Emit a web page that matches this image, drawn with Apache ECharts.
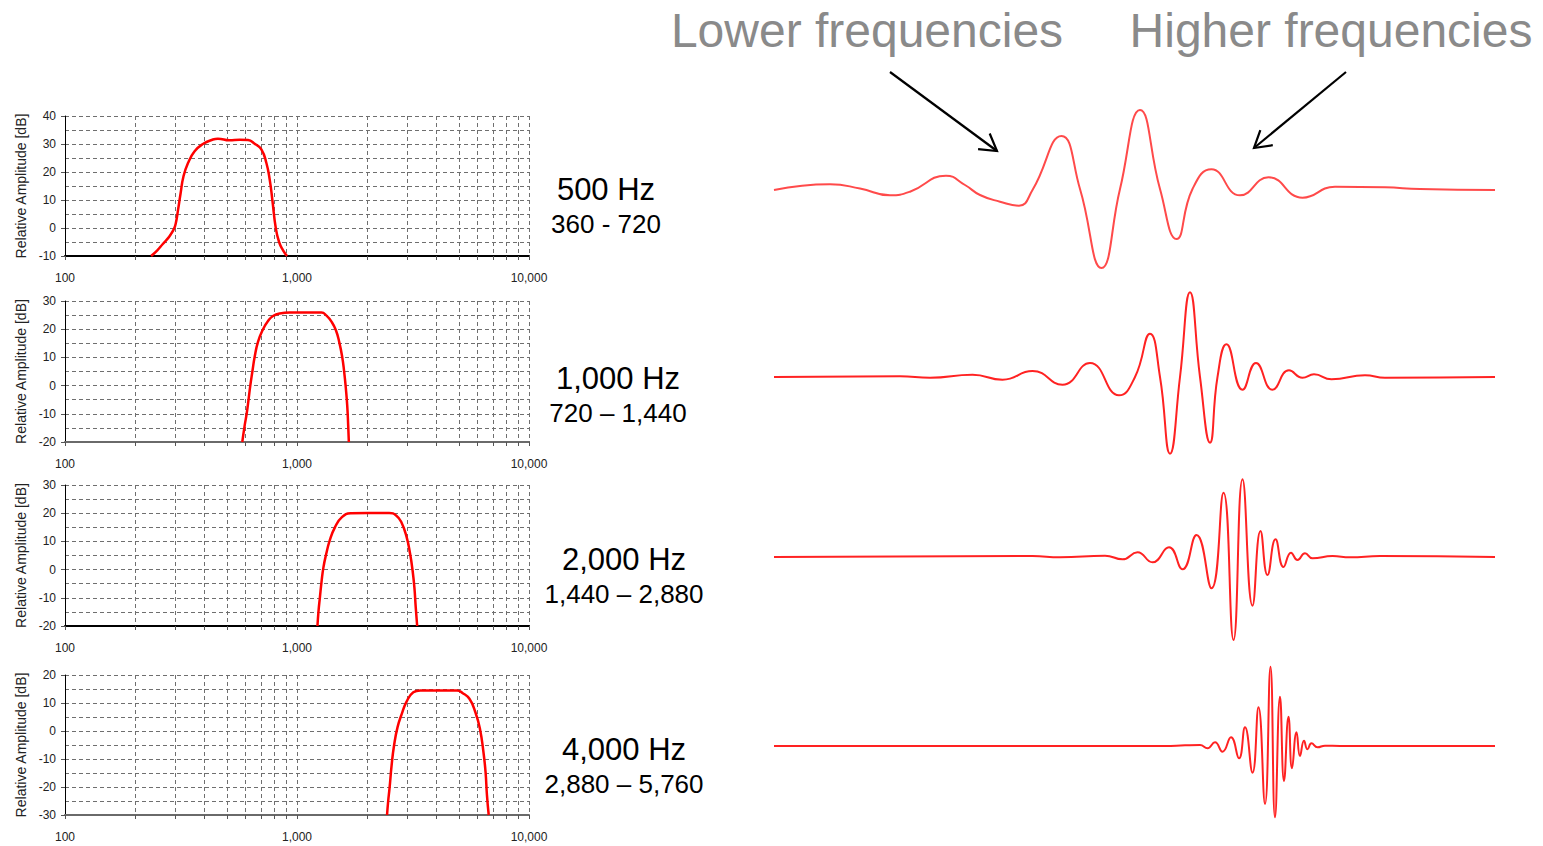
<!DOCTYPE html>
<html>
<head>
<meta charset="utf-8">
<script src="https://cdn.jsdelivr.net/npm/echarts@6/dist/echarts.min.js"></script>
<style>
  html, body { margin: 0; padding: 0; background: #ffffff; }
  #chart { width: 1543px; height: 846px; }
</style>
</head>
<body>
<div id="chart"></div>
<script>
// ---- Octave-band filter responses: frequency [Hz] and relative amplitude [dB] ----
const freq500 = [235, 250, 264, 277, 287, 295, 300, 307, 315, 324, 339, 362, 393, 434, 456, 512, 566, 615, 657, 702, 738, 763, 783, 810, 837, 871, 906];
const db500   = [-10, -8, -5.7, -3.8, -2, -0.3, 1.5, 6.4, 12.4, 18.4, 23.2, 27.4, 30, 31.6, 31.9, 31.3, 31.5, 31.4, 30.1, 28.1, 23.2, 17.2, 10, 0, -5, -8, -10];

const freq1000 = [581, 595, 607, 619, 629, 642, 657, 679, 714, 750, 788, 842, 930, 1100, 1275, 1340, 1408, 1470, 1520, 1566, 1597, 1624, 1646, 1662, 1673];
const db1000   = [-20, -14.1, -9.9, -4.6, 0, 4.9, 10.2, 15.5, 20, 22.9, 24.7, 25.6, 25.9, 25.9, 25.9, 24.8, 22.7, 19.7, 15.5, 10.2, 4.9, -1, -7, -14.1, -20];

const freq2000 = [1225, 1238, 1255, 1277, 1300, 1336, 1383, 1457, 1562, 1704, 2026, 2496, 2675, 2818, 2969, 3074, 3150, 3206, 3250, 3296];
const db2000   = [-20, -14.7, -9.9, -4, 0.8, 5.5, 10.3, 15, 18.6, 20, 20.1, 20.1, 19.2, 16.8, 11.5, 5.5, -0.4, -6.3, -13.5, -20];

const freq4000 = [2444, 2470, 2505, 2558, 2621, 2713, 2829, 2960, 3172, 3401, 4049, 4901, 5164, 5536, 5874, 6144, 6362, 6497, 6588, 6705];
const db4000   = [-30, -25.3, -20.5, -12.2, -5.1, 1.4, 6.1, 10.3, 13.8, 14.5, 14.5, 14.5, 13.6, 11.5, 6.7, 0.8, -7.5, -14.6, -22.9, -30];

// ---- Impulse responses of each band: time sample and amplitude ----
const time500 = [0, 56, 86, 116, 136, 172, 191, 206, 226, 245, 258.5, 287.5, 306, 327.5, 346, 366, 386, 402.5, 418.5, 437.5, 466, 494.5, 528.5, 561, 611, 646, 721];
const amp500  = [-1, 4.7, 0.5, -6.3, -2.7, 13.3, 4, -6, -12.7, -16.7, -1, 53, 0, -79, 0, 79, 0, -50, 0, 19.7, -6.3, 11.7, -8.7, 2.3, 1.7, 0, -1];

const time1000 = [0, 126, 156, 198.5, 228.5, 258.5, 288.5, 316, 345, 361, 376, 386, 396, 406, 416, 426, 436, 443.5, 452.5, 468.5, 482, 498.5, 515, 528.5, 540, 557.5, 591, 611, 721];
const amp1000  = [0, 0.7, -0.7, 2.3, -2.7, 6, -7.7, 14, -18.3, 0, 43.3, 0, -76.7, 0, 84.7, 0, -65.7, 0, 32.7, -12.7, 14, -12.7, 6.7, -0.7, 2.7, -2.3, 1.7, -0.7, 0];

const time2000 = [0, 258.5, 286, 331, 348.5, 363.5, 378.5, 395, 408.5, 422.5, 437.5, 449.5, 459.5, 468.5, 478.5, 486.5, 493.5, 501.5, 509.5, 517, 523.5, 531, 538.5, 558.5, 576, 606, 721];
const amp2000  = [0, 1, -0.3, 1.3, -2.3, 4.7, -5.3, 9.7, -12.3, 22, -31.3, 64.3, -83, 77.7, -48.7, 26, -18, 17.7, -10, 4.3, -3, 3.7, -1.3, 1, -0.3, 1, 0];

const time4000 = [0, 391, 411, 426, 433.5, 441, 448.5, 457, 465, 471, 478.5, 484.5, 491, 496.5, 501, 506, 510, 514.5, 518, 522.5, 526, 530, 533.5, 537.5, 543.5, 551, 566, 721];
const amp4000  = [0, 0, 0.7, 1, -2.3, 3.7, -5.7, 8.7, -12.3, 18.7, -26.7, 38.7, -58, 79.3, -71.3, 49.3, -35, 29.3, -22.3, 13.7, -10, 5.3, -3.3, 2.7, -1.3, 0.3, 0, 0];

// ---- Axis ticks and labels ----
const freqTickLabels = [100, 1000, 10000];
const freqGridLines = [100, 200, 300, 400, 500, 600, 700, 800, 900, 1000, 2000, 3000, 4000, 5000, 6000, 7000, 8000, 9000, 10000];
const dbMins = [-10, -20, -20, -30];
const dbMaxs = [40, 30, 30, 20];
const centerLabels = ['500 Hz', '1,000 Hz', '2,000 Hz', '4,000 Hz'];
const bandLabels = ['360 - 720', '720 \u2013 1,440', '1,440 \u2013 2,880', '2,880 \u2013 5,760'];
const headings = ['Lower frequencies', 'Higher frequencies'];

// ---- Layout ----
const FONT = 'Arial, "Liberation Sans", sans-serif';
const responseGrids = [
  { top: 116, height: 140 },
  { top: 301, height: 141 },
  { top: 485, height: 141 },
  { top: 675, height: 140 }
];
const waveGridTops = [99, 287, 467, 656];
const baseLineColors = ['#000000', '#6a6a6a', '#000000', '#6a6a6a'];
const labelPos = [[606, 189, 224], [618, 378, 413], [624, 559, 594], [624, 749, 784]];

const responses = [[freq500, db500], [freq1000, db1000], [freq2000, db2000], [freq4000, db4000]];
const waves = [[time500, amp500], [time1000, amp1000], [time2000, amp2000], [time4000, amp4000]];
const zip = (a, b) => a.map((v, i) => [v, b[i]]);

const grid = [], xAxis = [], yAxis = [], series = [];
const gridDash = { type: [4, 3], color: '#6f6f6f', width: 1 };

responses.forEach((r, i) => {
  grid.push({ left: 65, width: 464, top: responseGrids[i].top, height: responseGrids[i].height });
  xAxis.push({
    type: 'log', logBase: 10, min: 100, max: 10000, gridIndex: i,
    axisLine: { show: true, onZero: false, lineStyle: { color: baseLineColors[i], width: 2 } },
    axisTick: { show: true, length: 4, customValues: freqGridLines, lineStyle: { color: '#555' } },
    axisLabel: {
      customValues: freqTickLabels, margin: 16, fontSize: 12, color: '#222', fontFamily: FONT,
      formatter: v => Math.round(v).toLocaleString('en-US')
    },
    splitLine: { show: true, lineStyle: gridDash }
  });
  yAxis.push({
    type: 'value', gridIndex: i, min: dbMins[i], max: dbMaxs[i], interval: 10,
    name: 'Relative Amplitude [dB]', nameLocation: 'middle', nameGap: 37,
    nameTextStyle: { fontSize: 14, color: '#222', fontFamily: FONT },
    axisLine: { show: true, onZero: false, lineStyle: { color: '#000', width: 1 } },
    axisTick: { show: true, length: 4, lineStyle: { color: '#555' } },
    axisLabel: { fontSize: 12, color: '#222', margin: 9, fontFamily: FONT },
    splitLine: { show: true, lineStyle: gridDash },
    minorTick: { show: false, splitNumber: 2 },
    minorSplitLine: { show: true, lineStyle: gridDash }
  });
  series.push({
    type: 'line', xAxisIndex: i, yAxisIndex: i, data: zip(r[0], r[1]),
    smooth: 0.5, showSymbol: false, clip: false,
    lineStyle: { color: '#ff0000', width: 2.5 }
  });
});

waves.forEach((w, i) => {
  const k = 4 + i;
  grid.push({ left: 774, width: 721, top: waveGridTops[i], height: 180 });
  xAxis.push({ type: 'value', gridIndex: k, min: 0, max: 721, show: false });
  yAxis.push({ type: 'value', gridIndex: k, min: -90, max: 90, show: false });
  series.push({
    type: 'line', xAxisIndex: k, yAxisIndex: k, data: zip(w[0], w[1]),
    smooth: 0.5, showSymbol: false, clip: false,
    lineStyle: { color: i === 0 ? '#ff4a4a' : '#ff2222', width: 2 }
  });
});

// Arrow annotations pointing at the waveform
function arrow(x1, y1, x2, y2) {
  const ang = Math.atan2(y2 - y1, x2 - x1);
  const L = 19, spread = 0.54;
  const p1 = [x2 - L * Math.cos(ang - spread), y2 - L * Math.sin(ang - spread)];
  const p2 = [x2 - L * Math.cos(ang + spread), y2 - L * Math.sin(ang + spread)];
  return [
    { type: 'line', shape: { x1, y1, x2, y2 }, style: { stroke: '#000', lineWidth: 2.2 } },
    { type: 'polyline', shape: { points: [p1, [x2, y2], p2] }, style: { stroke: '#000', lineWidth: 2.2, fill: null } }
  ];
}

const graphic = [];
labelPos.forEach((p, i) => {
  graphic.push({ type: 'text', x: p[0], y: p[1], style: { text: centerLabels[i], fontSize: 31, fontFamily: FONT, fill: '#000', align: 'center', verticalAlign: 'middle' } });
  graphic.push({ type: 'text', x: p[0], y: p[2], style: { text: bandLabels[i], fontSize: 26, fontFamily: FONT, fill: '#000', align: 'center', verticalAlign: 'middle' } });
});
graphic.push({ type: 'text', x: 867, y: 30, style: { text: headings[0], fontSize: 48, fontFamily: FONT, fill: '#8a8a8a', align: 'center', verticalAlign: 'middle' } });
graphic.push({ type: 'text', x: 1331, y: 30, style: { text: headings[1], fontSize: 48, fontFamily: FONT, fill: '#8a8a8a', align: 'center', verticalAlign: 'middle' } });
graphic.push(...arrow(890, 72, 997, 151));
graphic.push(...arrow(1346, 72, 1254, 148));

const chart = echarts.init(document.getElementById('chart'), null, { renderer: 'svg' });
chart.setOption({
  animation: false,
  backgroundColor: '#ffffff',
  grid, xAxis, yAxis, series, graphic
});
</script>
</body>
</html>
